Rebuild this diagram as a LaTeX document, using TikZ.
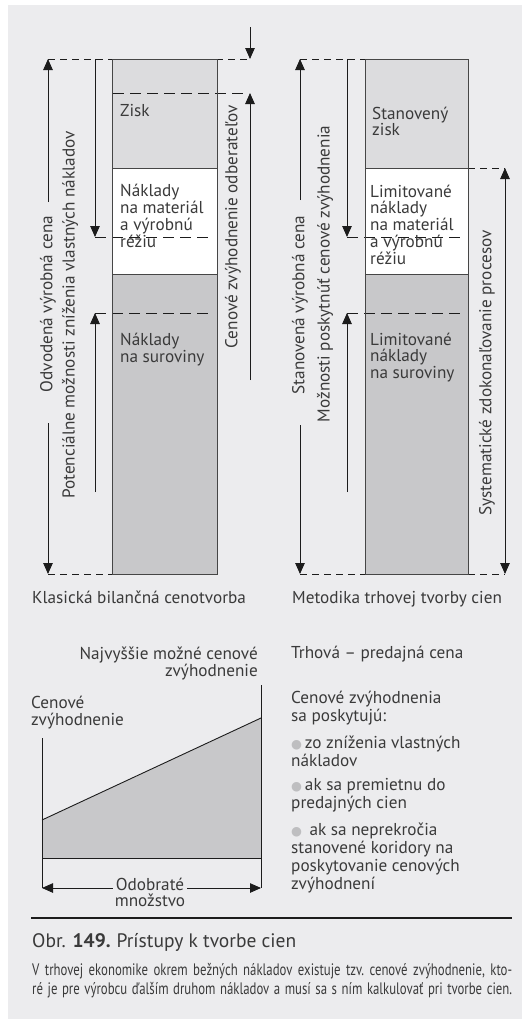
\documentclass[tikz,border=0pt]{standalone}
\usepackage{fontspec}
\setmainfont{PT Sans}
\newfontfamily\condfont[FakeStretch=0.77]{PT Sans}
\newfontfamily\symfont{DejaVu Sans}
\usetikzlibrary{arrows.meta}

\definecolor{bg}{RGB}{236,236,238}
\definecolor{band}{RGB}{220,220,222}
\definecolor{base}{RGB}{200,200,202}
\definecolor{ink}{RGB}{58,58,58}
\definecolor{ln}{RGB}{28,28,28}
\definecolor{frame}{RGB}{70,70,70}
\definecolor{dot}{RGB}{190,190,192}

% stacked lines, first baseline is the box baseline
\newcommand\stackL[2][17pt]{\vtop{\baselineskip=#1\relax\halign{##\hfil\cr#2\crcr}}}
\newcommand\stackR[2][17pt]{\vtop{\baselineskip=#1\relax\halign{\hfil##\cr#2\crcr}}}
\newcommand\stackC[2][17pt]{\vtop{\baselineskip=#1\relax\halign{\hfil##\hfil\cr#2\crcr}}}
\newcommand\bul{{\symfont\fontsize{12.5}{12}\selectfont\textcolor{dot}{●}}\,}

\begin{document}
\begin{tikzpicture}[x=1pt,y=-1pt,
  txt/.style={font=\fontsize{17.2}{17}\selectfont, text=ink, inner sep=0pt},
  vlbl/.style={txt, rotate=90},
  dimline/.style={draw=ln, line width=0.9pt},
  tipend/.style={-{Triangle[length=11pt,width=9.5pt]}},
  tipboth/.style={{Triangle[length=11pt,width=9.5pt]}-{Triangle[length=11pt,width=9.5pt]}},
  dshort/.style={draw=ln, line width=0.8pt, dash pattern=on 7pt off 5pt},
  dlong/.style={draw=ln, line width=0.8pt, dash pattern=on 11pt off 6pt},
  colframe/.style={draw=frame, line width=1pt},
]
\useasboundingbox (0,0) rectangle (522,1029);
\fill[bg] (8,5) rectangle (522,1019);

% ---------- column: classical costing ----------
\fill[band] (112,59) rectangle (217,168);
\fill[white] (112,168) rectangle (217,274);
\fill[base] (112,274) rectangle (217,574);

\draw[dshort] (48,59) -- (250,59);
\draw[dlong] (113,93) -- (248,93);
\draw[dlong] (95,237) -- (213,237);
\draw[dlong] (95,313) -- (213,313);
\draw[dshort] (48,574) -- (112,574);

\draw[colframe] (112,59) rectangle (217,574);
\draw[colframe] (112,168) -- (217,168);
\draw[colframe] (112,274) -- (217,274);

% ---------- column: market pricing ----------
\fill[band] (365,59) rectangle (468,168);
\fill[white] (365,168) rectangle (468,274);
\fill[base] (365,274) rectangle (468,574);

\draw[dshort] (300,59) -- (365,59);
\draw[dshort] (468,168) -- (505,168);
\draw[dlong] (347,237) -- (465,237);
\draw[dlong] (347,313) -- (465,313);
\draw[dshort] (300,574) -- (505,574);

\draw[colframe] (365,59) rectangle (468,574);
\draw[colframe] (365,168) -- (468,168);
\draw[colframe] (365,274) -- (468,274);

% ---------- dimension lines, left ----------
\coordinate (aT) at (48,59);  \coordinate (aTe) at (48,202);
\coordinate (aBs) at (48,423); \coordinate (aB) at (48,574);
\draw[dimline,tipend] (aTe) -- (aT);
\draw[dimline,tipend] (aBs) -- (aB);
\node[vlbl] (odv) at (48,304) {Odvodená výrobná cena};

\coordinate (bT) at (95,59);  \coordinate (bD) at (95,237);
\coordinate (bU) at (95,313); \coordinate (bB) at (95,492);
\draw[dimline,tipend] (bT) -- (bD);
\draw[dimline,tipend] (bB) -- (bU);
\node[vlbl] (pot) at (70,315) {Potenciálne možnosti zníženia vlastných nákladov};

\coordinate (cA) at (250,27); \coordinate (cB) at (250,59);
\coordinate (cL) at (250,380); \coordinate (cU) at (250,93);
\draw[dimline,tipend] (cA) -- (cB);
\draw[dimline,tipend] (cL) -- (cU);
\node[vlbl] (odb) at (233,227) {Cenové zvýhodnenie odberateľov};

% ---------- dimension lines, right ----------
\coordinate (dT) at (300,59);  \coordinate (dTe) at (300,200);
\coordinate (dBs) at (300,425); \coordinate (dB) at (300,574);
\draw[dimline,tipend] (dTe) -- (dT);
\draw[dimline,tipend] (dBs) -- (dB);
\node[vlbl] (stc) at (300,305) {Stanovená výrobná cena};

\coordinate (eT) at (347,59);  \coordinate (eD) at (347,237);
\coordinate (eU) at (347,313); \coordinate (eB) at (347,492);
\draw[dimline,tipend] (eT) -- (eD);
\draw[dimline,tipend] (eB) -- (eU);
\node[vlbl] (mzn) at (325,274) {Možnosti poskytnúť cenové zvýhodnenia};

\coordinate (fT) at (505,168); \coordinate (fB) at (505,574);
\draw[dimline,tipboth] (fT) -- (fB);
\node[vlbl] (sys) at (487,373) {Systematické zdokonaľovanie procesov};

% ---------- texts in the columns ----------
\node[txt,anchor=base west] (zisk) at (120,116) {Zisk};
\node[txt,anchor=base west] (nmat) at (120,196) {\stackL{Náklady\cr na materiál\cr a výrobnú\cr réžiu}};
\node[txt,anchor=base west] (nsur) at (120,345) {\stackL{Náklady\cr na suroviny}};

\node[txt,anchor=base west] (szisk) at (372,119) {\stackL[14pt]{Stanovený\cr zisk}};
\node[txt,anchor=base west] (lmat) at (370,197) {\stackL[16.8pt]{Limitované\cr náklady\cr na materiál\cr a výrobnú\cr réžiu}};
\node[txt,anchor=base west] (lsur) at (370,345) {\stackL[16.5pt]{Limitované\cr náklady\cr na suroviny}};

\node[txt,anchor=base west] (klas) at (32,603) {Klasická bilančná cenotvorba};
\node[txt,anchor=base west] (meto) at (292,603) {Metodika trhovej tvorby cien};

% ---------- discount chart ----------
\node[txt,anchor=base east] (najv) at (258,659) {\stackR[16pt]{Najvyššie možné cenové\cr zvýhodnenie}};
\node[txt,anchor=base west] (cenz) at (31,708) {\stackL[17pt]{Cenové\cr zvýhodnenie}};

\coordinate (gL) at (42,738);  \coordinate (gLb) at (42,888);
\coordinate (gR) at (261,685); \coordinate (gRb) at (261,888);
\fill[base] (42,820) -- (261,718) -- (261,858) -- (42,858) -- cycle;
\draw[dimline] (42,820) -- (261,718);
\draw[dimline] (42,858) -- (261,858);
\draw[dimline] (gL) -- (gLb);
\draw[dimline] (gR) -- (gRb);
\draw[dimline,tipboth] (gLb) -- (gRb);
\node[txt,anchor=base,fill=bg,inner xsep=2pt,inner ysep=1pt] (odo) at (150,890) {\stackC[16pt]{Odobraté\cr množstvo}};

% ---------- right-hand notes ----------
\node[txt,anchor=base west] (trh) at (291,658) {Trhová – predajná cena};
\node[txt,anchor=base west] (posk) at (291,703) {\stackL[18pt]{Cenové zvýhodnenia\cr sa poskytujú:}};
\node[txt,anchor=base west] (b1) at (291,748) {\stackL[18.5pt]{\bul zo zníženia vlastných\cr nákladov}};
\node[txt,anchor=base west] (b2) at (291,790) {\stackL[18.5pt]{\bul ak sa premietnu do\cr predajných cien}};
\node[txt,anchor=base west] (b3) at (291,835) {\stackL[18.3pt]{\bul\ ak sa neprekročia\cr stanovené koridory na\cr poskytovanie cenových\cr zvýhodnení}};

% ---------- caption ----------
\draw[ln,line width=1.3pt] (31,918) -- (512,918);
\node[txt,anchor=base west,font=\fontsize{19.5}{22}\selectfont] (cap) at (32,947) {Obr. \textbf{149.}\hspace{6pt}Prístupy k tvorbe cien};
\node[txt,anchor=base west,font=\condfont\fontsize{16.6}{18}\selectfont\frenchspacing] (capb) at (32,975)
  {\stackL[19pt]{\makebox[480pt][s]{V trhovej ekonomike okrem bežných nákladov existuje tzv. cenové zvýhodnenie, kto-}\cr
   \makebox[480pt][s]{ré je pre výrobcu ďalším druhom nákladov a musí sa s ním kalkulovať pri tvorbe cien.}}};
\end{tikzpicture}
\end{document}
